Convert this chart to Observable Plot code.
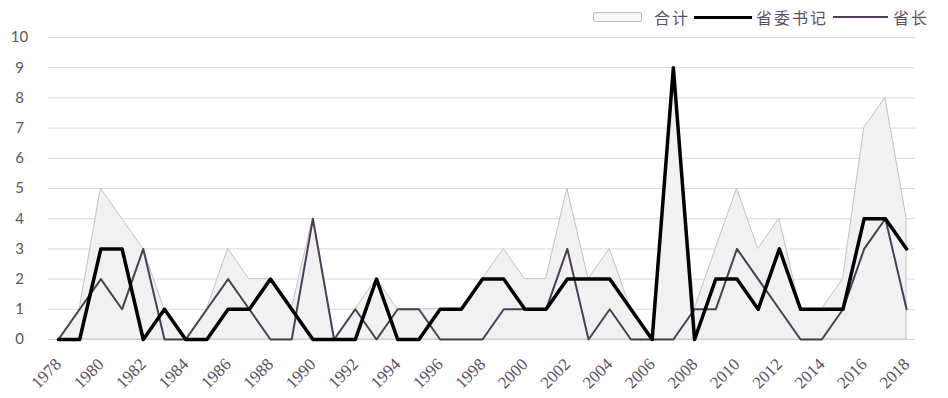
<!DOCTYPE html>
<html><head><meta charset="utf-8">
<script src="https://cdn.jsdelivr.net/npm/d3@7"></script>
<script src="https://cdn.jsdelivr.net/npm/@observablehq/plot@0.6"></script>
<style>
body{margin:0;background:#fff;}
#wrap{position:relative;width:948px;height:398px;}
#legend{position:absolute;left:593px;top:5px;display:flex;align-items:center;font-family:"Noto Sans CJK SC";font-size:16px;color:#5e5066;white-space:nowrap;}
#legend .sw{display:inline-block;width:47px;height:8px;border:1px solid #bdbdbd;background:#f7f7f7;border-radius:2px;margin-right:12px;}
#legend .thick{display:inline-block;width:58px;height:3px;background:#000;margin:0 4px 0 4px;}
#legend .thin{display:inline-block;width:55px;height:2px;background:#4e3d57;margin:0 5px 0 5px;}
#legend .t{letter-spacing:2px;}
</style></head><body>
<div id="wrap">
<div id="legend"><span class="sw"></span><span class="t">合计</span><span class="thick"></span><span class="t">省委书记</span><span class="thin"></span><span class="t">省长</span></div>
</div>
<script>
const years = [1978,1979,1980,1981,1982,1983,1984,1985,1986,1987,1988,1989,1990,1991,1992,1993,1994,1995,1996,1997,1998,1999,2000,2001,2002,2003,2004,2005,2006,2007,2008,2009,2010,2011,2012,2013,2014,2015,2016,2017,2018];
const total     = [0,1,5,4,3,1,0,1,3,2,2,1,4,0,1,2,1,1,1,1,2,3,2,2,5,2,3,1,0,9,1,3,5,3,4,1,1,2,7,8,4];
const secretary = [0,0,3,3,0,1,0,0,1,1,2,1,0,0,0,2,0,0,1,1,2,2,1,1,2,2,2,1,0,9,0,2,2,1,3,1,1,1,4,4,3];
const governor  = [0,1,2,1,3,0,0,1,2,1,0,0,4,0,1,0,1,1,0,0,0,1,1,1,3,0,1,0,0,0,1,1,3,2,1,0,0,1,3,4,1];
const xTicks = [1978,1980,1982,1984,1986,1988,1990,1992,1994,1996,1998,2000,2002,2004,2006,2008,2010,2012,2014,2016,2018];
const yTicks = [0,1,2,3,4,5,6,7,8,9,10];

const data = years.map((y,i)=>({year:y, total:total[i], sec:secretary[i], gov:governor[i]}));

const chart = Plot.plot({
  width:948, height:398,
  marginTop:37, marginBottom:59, marginLeft:48, marginRight:33,
  style:{fontFamily:"Lato", background:"transparent", overflow:"visible"},
  x:{domain:[1977.53, 2018.42]},
  y:{domain:[0,10]},
  marks:[
    Plot.gridY(yTicks, {stroke:"#d9d9d9", strokeOpacity:1}),
    Plot.areaY(data, {x:"year", y:"total", fill:"#f1f1f1", stroke:"#c2c2c2", strokeWidth:1}),
    Plot.ruleY([0], {stroke:"#d0d0d0"}),
    Plot.line(data, {x:"year", y:"gov", stroke:"#4e3d57", strokeWidth:2}),
    Plot.line(data, {x:"year", y:"sec", stroke:"#000", strokeWidth:3.5}),
    Plot.axisY(yTicks, {tickSize:0, tickPadding:29, textAnchor:"middle", fontSize:15, fill:"#595959", label:null}),
    Plot.axisX(xTicks, {tickSize:0, tickRotate:-45, tickPadding:22, tickFormat:d=>String(d), fontSize:17, fontFamily:"Liberation Serif", fill:"#5a4f62", label:null})
  ]
});
document.getElementById("wrap").appendChild(chart);
</script>
</body></html>
